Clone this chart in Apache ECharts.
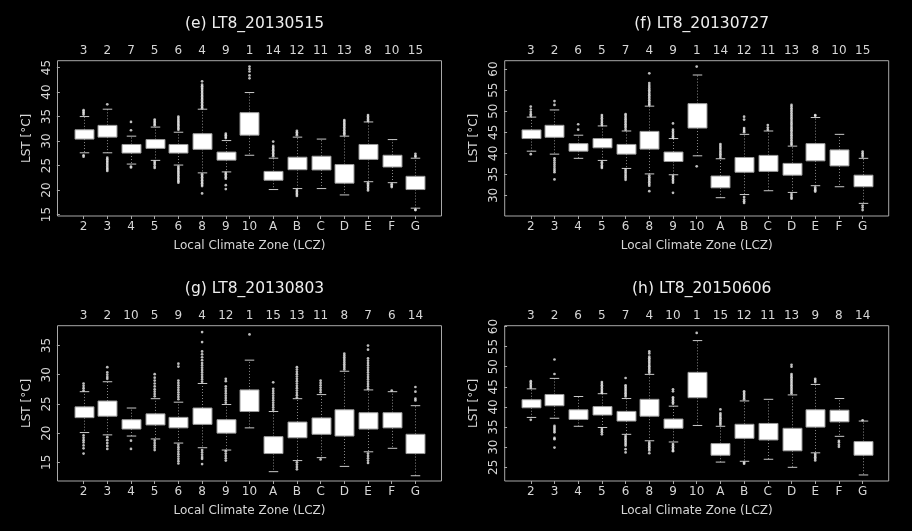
<!DOCTYPE html>
<html>
<head>
<meta charset="utf-8">
<script src="https://cdn.jsdelivr.net/npm/echarts@6/dist/echarts.min.js"></script>
<style>
html,body{margin:0;padding:0;background:#000;}
#chart{width:912px;height:531px;}
</style>
</head>
<body>
<div id="chart"></div>
<script>
// ---------- DATA ----------
const categories = ['2','3','4','5','6','8','9','10','A','B','C','D','E','F','G'];

const titleE = '(e) LT8_20130515';
const titleF = '(f) LT8_20130727';
const titleG = '(g) LT8_20130803';
const titleH = '(h) LT8_20150606';

const topE = ['3','2','7','5','6','4','9','1','14','12','11','13','8','10','15'];
const topF = ['3','2','6','5','7','4','9','1','14','12','11','13','8','10','15'];
const topG = ['3','2','10','5','9','4','12','1','15','13','11','8','7','6','14'];
const topH = ['3','2','6','5','7','4','10','1','15','12','11','13','9','8','14'];

const ticksE = [15,20,25,30,35,40,45];
const ticksF = [30,35,40,45,50,55,60];
const ticksG = [15,20,25,30,35];
const ticksH = [25,30,35,40,45,50,55,60];

const rangeE = [14.7, 46.4];
const rangeF = [25.1, 62.0];
const rangeG = [11.8, 38.4];
const rangeH = [21.6, 60.2];

// whisker low, Q1, Q3, whisker high
const lowE  = [27.6,27.6,25.3,26.05,25.1,23.5,23.7,27.1,20.1,20.3,20.3,19.0,21.7,21.5,16.3];
const q1E   = [30.4,30.8,27.55,28.5,27.55,28.3,26.1,31.2,22.0,24.15,24.1,21.4,26.25,24.7,20.1];
const q3E   = [32.3,33.2,29.3,30.3,29.3,31.5,27.75,35.8,23.8,26.7,26.9,25.2,29.3,27.1,22.8];
const highE = [35.0,36.5,31.0,32.85,31.8,36.5,30.1,39.9,26.5,30.8,30.4,31.0,33.9,30.3,26.5];

const lowF  = [40.5,39.8,38.8,38.3,36.4,35.1,34.9,39.4,29.45,30.2,31.1,30.7,32.3,32.05,28.1];
const q1F   = [43.5,43.8,40.5,41.3,39.8,41.0,38.05,46.0,31.8,35.5,35.7,34.8,38.2,37.0,32.05];
const q3F   = [45.55,46.65,42.3,43.5,42.1,45.2,40.3,51.8,34.6,39.0,39.5,37.6,42.3,40.8,34.8];
const highF = [48.6,50.3,44.3,46.5,45.3,51.2,43.5,58.6,38.7,44.5,45.3,41.7,48.5,44.5,38.8];

const lowG  = [20.1,19.7,19.5,19.0,18.3,17.5,17.1,20.9,13.4,15.3,15.8,14.3,16.8,17.4,12.7];
const q1G   = [22.65,22.9,20.7,21.4,20.9,21.5,20.0,23.7,16.5,19.2,19.8,19.5,20.7,20.9,16.5];
const q3G   = [24.5,25.5,22.3,23.3,22.7,24.3,22.3,27.4,19.4,21.9,22.6,24.0,23.5,23.5,19.8];
const highG = [27.1,28.8,24.3,25.9,25.3,28.5,24.9,32.5,23.7,25.9,26.6,30.6,27.4,27.1,24.7];

const lowH  = [37.4,37.2,35.2,34.9,33.2,31.6,31.3,35.4,26.3,26.5,27.0,25.0,28.6,32.7,23.1];
const q1H   = [39.8,40.3,36.9,38.0,36.5,37.7,34.7,42.3,28.0,32.2,31.8,29.1,35.0,36.3,28.0];
const q3H   = [41.8,43.1,39.3,40.1,38.9,41.9,37.0,48.6,30.9,35.7,35.9,34.7,39.3,39.2,31.4];
const highH = [44.5,47.1,42.6,43.3,42.1,48.1,40.2,56.5,35.2,41.5,41.9,43.0,45.6,42.1,36.5];

// outliers per category
const outE = [
  [36.3,36.0,35.7,35.4,27.1,26.8],
  [37.5,26.6,26.3,26.0,25.7,25.4,25.1,24.8,24.5,24.2,23.9],
  [33.9,32.2,24.8,24.6],
  [34.4,34.1,33.8,33.5,33.2,25.8,25.5,25.2,24.8,24.5],
  [35.0,34.7,34.4,34.1,33.8,33.5,33.2,32.9,32.6,32.3,24.8,24.5,24.2,23.9,23.6,23.3,23.0,22.7,22.4,22.1,21.8,21.5],
  [42.2,41.5,41.2,40.9,40.6,40.3,40.0,39.7,39.4,39.1,38.8,38.5,38.2,37.9,37.6,37.3,37.0,36.7,23.2,22.9,22.6,22.3,22.0,21.7,21.4,21.1,20.8,19.3],
  [31.5,31.2,30.9,30.6,23.5,23.2,22.9,22.6,22.3,21.0,20.2],
  [45.2,44.7,44.2,43.4,42.8],
  [29.9,29.0,28.7,28.4,28.1,27.8,27.5,27.2,26.9],
  [32.1,31.8,31.5,31.2,20.0,19.7,19.4,19.1,18.8],
  [],
  [34.3,34.0,33.7,33.4,33.1,32.8,32.5,32.2,31.9,31.6,31.3],
  [35.3,35.0,34.7,34.4,34.1,21.4,21.1,20.8,20.5,20.2,19.9],
  [21.2,20.9,20.6],
  [27.4,27.0,26.8,16.0,15.9]
];
const outF = [
  [51.1,50.4,49.8,49.3,48.9,39.8],
  [52.4,51.5,38.8,38.3,37.8,37.3,36.8,36.3,35.9,35.5,33.8],
  [46.9,45.6],
  [49.1,48.7,48.3,47.9,47.5,47.1,46.7,37.9,37.5,37.1,36.8,36.5],
  [49.3,48.9,48.5,48.1,47.7,47.3,46.9,46.5,46.1,45.6,36.1,35.7,35.3,34.9,34.5,34.1,33.7],
  [59.0,56.7,56.2,55.8,55.4,55.0,54.6,54.2,53.8,53.4,53.0,52.6,52.2,51.8,51.5,34.7,34.3,33.9,33.5,33.1,32.7,32.3,31.0],
  [47.1,45.6,45.2,44.8,44.4,44.0,43.7,34.6,34.2,33.8,33.4,33.0,30.6],
  [60.6,36.9],
  [42.2,41.8,41.4,41.0,40.6,40.2,39.8,39.4,39.0],
  [48.7,48.0,46.0,45.6,45.3,45.0,29.6,29.0,28.6,28.2],
  [46.7,46.1,45.6],
  [51.5,51.1,50.7,50.3,49.9,49.5,49.1,48.7,48.3,47.9,47.5,47.1,46.7,46.3,45.9,45.5,45.1,44.7,44.3,43.9,43.5,43.1,42.7,42.3,42.0,30.3,29.9,29.5,29.2],
  [49.1,48.9,31.9,31.5,31.2,30.9],
  [],
  [40.4,40.0,39.6,39.2,27.6,27.1,26.5]
];
const outG = [
  [28.5,28.1,27.7,27.3,19.6,19.2,18.8,18.4,17.9,17.4,16.5],
  [31.3,30.4,30.0,29.6,29.3,19.3,18.8,18.3,17.8,17.3],
  [18.7,17.3],
  [30.1,29.5,29.0,28.5,28.0,27.5,27.1,26.7,26.3,18.7,18.3,17.9,17.5,17.1],
  [31.9,31.4,29.0,28.6,28.2,27.8,27.4,27.0,26.6,26.2,25.8,18.0,17.6,17.2,16.8,16.4,16.0,15.6,15.2,14.8],
  [37.3,35.6,34.0,33.5,33.0,32.5,32.0,31.6,31.2,30.8,30.4,30.0,29.6,29.2,28.8,17.1,16.7,16.3,15.9,15.6,14.7],
  [29.3,28.9,28.0,27.6,27.2,26.8,26.4,26.0,25.6,25.2,16.9,16.5,16.1,15.7,15.3],
  [36.9],
  [28.7,27.6,27.2,26.8,26.4,26.0,25.6,25.2,24.8,24.4,24.0],
  [31.3,30.9,30.5,30.1,29.7,29.3,28.9,28.5,28.1,27.7,27.3,26.9,26.5,26.1,15.0,14.6,14.2,13.8],
  [29.0,28.6,28.2,27.8,27.4,27.0,15.5],
  [33.6,33.3,33.0,32.7,32.4,32.1,31.8,31.5,31.2,30.9],
  [35.0,34.3,32.8,32.4,32.0,31.6,31.2,30.8,30.4,30.0,29.6,29.2,28.8,28.4,28.0,27.6,16.5,16.1,15.7,15.3,14.9],
  [27.3],
  [27.9,27.1,25.9,25.6]
];
const outH = [
  [46.4,46.0,45.6,45.2,44.8,36.8],
  [51.8,48.2,35.3,34.9,34.5,34.1,33.7,32.3,32.0,29.9],
  [],
  [46.2,45.8,45.4,45.0,44.6,44.2,43.8,43.5,34.5,34.1,33.7,33.2],
  [47.2,45.4,45.0,44.6,44.2,43.8,43.4,43.0,42.6,32.8,32.4,32.0,31.6,31.2,30.8,30.4,29.5,28.7],
  [53.8,53.3,52.5,52.1,51.7,51.3,50.9,50.5,50.1,49.7,49.3,48.9,48.5,31.2,30.8,30.4,30.0,29.6,29.2,28.5],
  [44.4,43.9,42.4,42.0,41.6,41.2,40.8,30.8,30.4,30.0,29.6,29.2,29.0],
  [58.4],
  [39.4,38.4,38.0,37.6,37.2,36.8,36.4,36.0,35.6],
  [43.9,43.5,43.1,42.7,42.3,41.9,26.2,25.9],
  [],
  [50.5,50.0,48.2,47.8,47.4,47.0,46.6,46.2,45.8,45.4,45.0,44.6,44.2,43.8,43.4],
  [47.0,46.6,46.2,28.3,27.9,27.5,27.1,26.7],
  [31.6,31.2,30.6,30.1],
  [36.7]
];

const xAxisTitle = 'Local Climate Zone (LCZ)';
const yAxisTitle = 'LST [°C]';

// ---------- LAYOUT ----------
const gridLefts = [57.5, 504.7, 57.5, 504.7];
const gridTops = [60.7, 60.7, 325.7, 325.7];
const gridW = 384, gridH = 155.3;

const panels = [
  {title:titleE, top:topE, ticks:ticksE, range:rangeE, low:lowE, q1:q1E, q3:q3E, high:highE, out:outE},
  {title:titleF, top:topF, ticks:ticksF, range:rangeF, low:lowF, q1:q1F, q3:q3F, high:highF, out:outF},
  {title:titleG, top:topG, ticks:ticksG, range:rangeG, low:lowG, q1:q1G, q3:q3G, high:highG, out:outG},
  {title:titleH, top:topH, ticks:ticksH, range:rangeH, low:lowH, q1:q1H, q3:q3H, high:highH, out:outH}
];

const FONT = 'DejaVu Sans';
const TXT = '#d6d6d6';
const positions = categories.map((c, i) => i + 1);

function renderBox(params, api) {
  const x = api.value(0);
  const pLow = api.coord([x, api.value(1)]);
  const pQ1 = api.coord([x, api.value(2)]);
  const pQ3 = api.coord([x, api.value(3)]);
  const pHigh = api.coord([x, api.value(4)]);
  const bw = api.size([0.8, 0])[0];
  const cw = api.size([0.4, 0])[0];
  const cx = Math.round(pQ1[0]) + 0.5;
  const wh = {stroke:'#8c8c8c', lineWidth:1, lineDash:[1,2]};
  const cap = {stroke:'#c8c8c8', lineWidth:1};
  return {
    type:'group',
    children:[
      {type:'line', shape:{x1:cx, y1:pQ3[1], x2:cx, y2:pHigh[1]}, style:wh},
      {type:'line', shape:{x1:cx, y1:pQ1[1], x2:cx, y2:pLow[1]}, style:wh},
      {type:'line', shape:{x1:cx - cw/2, y1:pHigh[1], x2:cx + cw/2, y2:pHigh[1]}, style:cap},
      {type:'line', shape:{x1:cx - cw/2, y1:pLow[1], x2:cx + cw/2, y2:pLow[1]}, style:cap},
      {type:'rect', shape:{x:cx - bw/2, y:pQ3[1], width:bw, height:pQ1[1] - pQ3[1]},
        style:{fill:'#ffffff', stroke:'#9a9a9a', lineWidth:1}}
    ]
  };
}

const option = {
  backgroundColor:'#000000',
  animation:false,
  title:[], grid:[], xAxis:[], yAxis:[], series:[]
};

panels.forEach((p, k) => {
  const L = gridLefts[k], T = gridTops[k];
  option.title.push({
    text:p.title, left:L + gridW/2, top:T - 50, textAlign:'center',
    textStyle:{color:'#eeeeee', fontFamily:FONT, fontSize:15.5, fontWeight:'normal'}
  });
  option.grid.push({left:L, top:T, width:gridW, height:gridH, show:true,
    borderColor:'#a8a8a8', borderWidth:1, backgroundColor:'transparent'});
  option.xAxis.push({
    type:'value', gridIndex:k, position:'bottom', min:-0.1, max:16.1,
    name:xAxisTitle, nameLocation:'middle', nameGap:24,
    nameTextStyle:{color:TXT, fontFamily:FONT, fontSize:12},
    axisLine:{show:false}, splitLine:{show:false},
    axisTick:{show:true, length:3, customValues:positions, lineStyle:{color:'#a8a8a8'}},
    axisLabel:{show:true, customValues:positions, margin:5, color:TXT, fontFamily:FONT, fontSize:12,
      formatter:(v) => categories[Math.round(v) - 1]}
  });
  option.xAxis.push({
    type:'value', gridIndex:k, position:'top', min:-0.1, max:16.1,
    axisLine:{show:false}, splitLine:{show:false}, axisTick:{show:false},
    axisLabel:{show:true, customValues:positions, margin:4, color:TXT, fontFamily:FONT, fontSize:12,
      formatter:(v) => p.top[Math.round(v) - 1]}
  });
  option.yAxis.push({
    type:'value', gridIndex:k, min:p.range[0], max:p.range[1],
    name:yAxisTitle, nameLocation:'middle', nameGap:25, nameRotate:90,
    nameTextStyle:{color:TXT, fontFamily:FONT, fontSize:12},
    axisLine:{show:false}, splitLine:{show:false},
    axisTick:{show:true, length:3, customValues:p.ticks, lineStyle:{color:'#a8a8a8'}},
    axisLabel:{show:true, customValues:p.ticks, rotate:90, margin:5, color:TXT, fontFamily:FONT, fontSize:12}
  });
  option.series.push({
    type:'custom', xAxisIndex:2*k, yAxisIndex:k, renderItem:renderBox,
    encode:{x:0, y:[1,2,3,4]}, clip:false,
    data:categories.map((c, i) => [i + 1, p.low[i], p.q1[i], p.q3[i], p.high[i]])
  });
  const pts = [];
  p.out.forEach((arr, i) => arr.forEach(v => pts.push([i + 1, v])));
  option.series.push({
    type:'scatter', xAxisIndex:2*k, yAxisIndex:k, symbol:'circle', symbolSize:2.7,
    itemStyle:{color:'#ececec'}, data:pts, z:3
  });
});

const chart = echarts.init(document.getElementById('chart'), null, {renderer:'canvas'});
chart.setOption(option);
</script>
</body>
</html>
